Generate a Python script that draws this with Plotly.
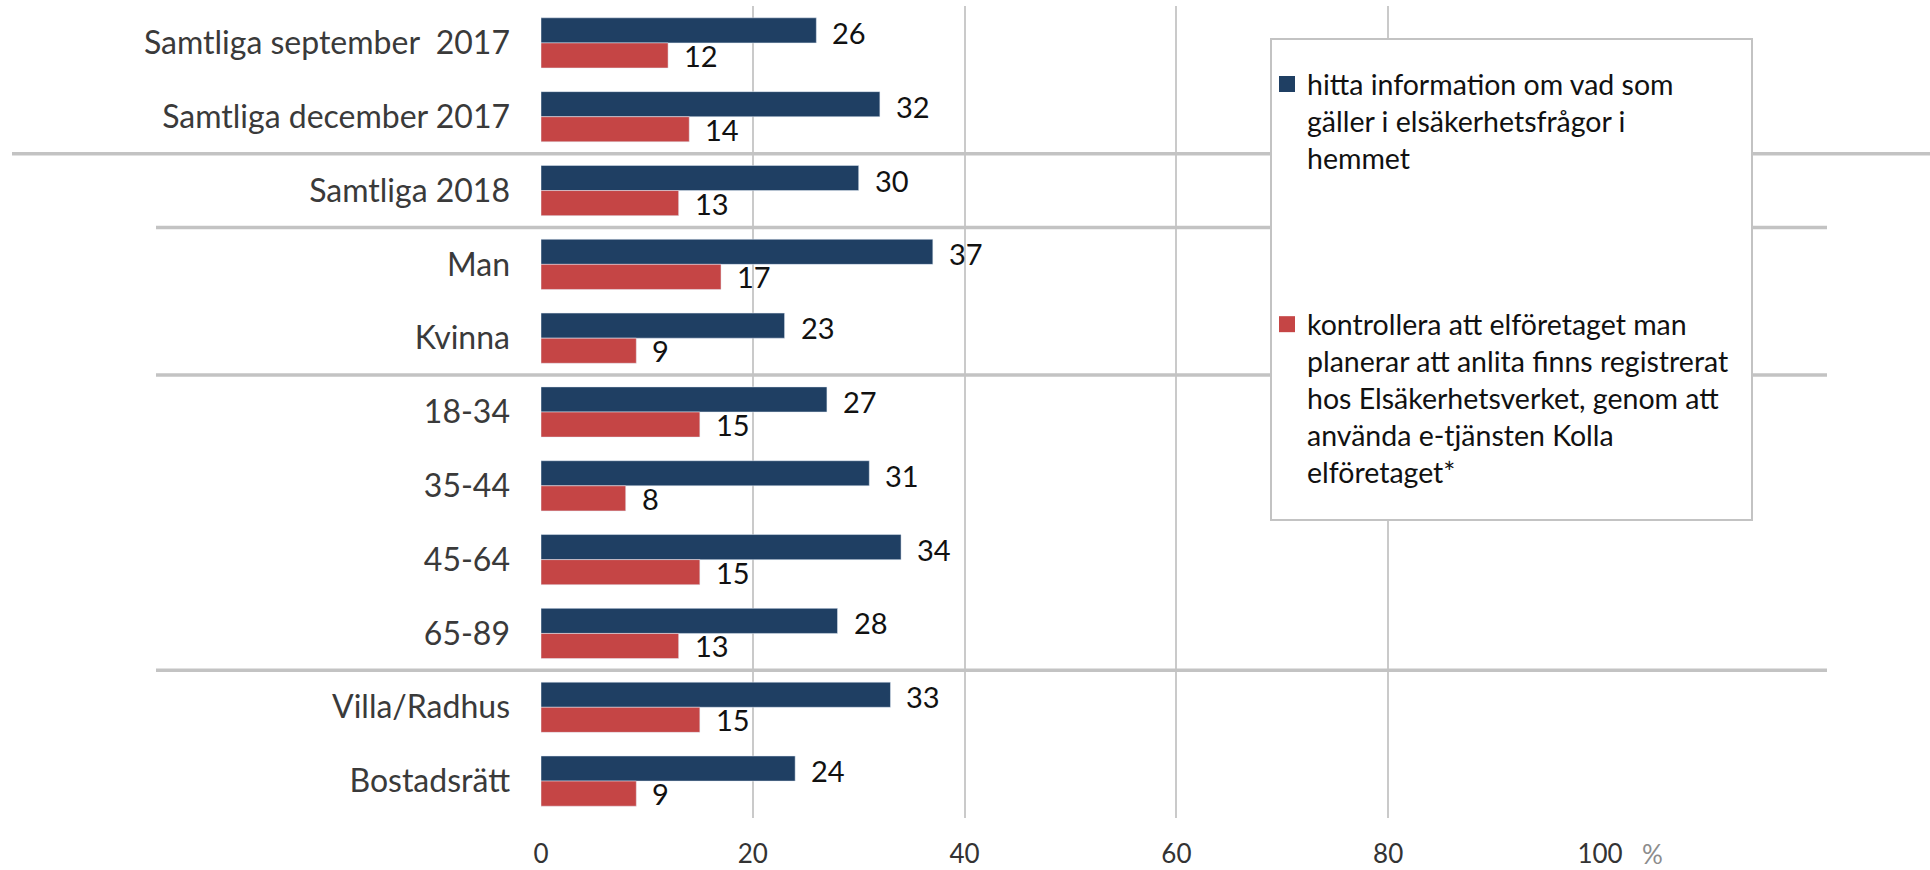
import plotly.graph_objects as go

categories = ["Samtliga september  2017", "Samtliga december 2017", "Samtliga 2018",
              "Man", "Kvinna", "18-34", "35-44", "45-64", "65-89",
              "Villa/Radhus", "Bostadsrätt"]
info_values = [26, 32, 30, 37, 23, 27, 31, 34, 28, 33, 24]
check_values = [12, 14, 13, 17, 9, 15, 8, 15, 13, 15, 9]
series_names = [
    "hitta information om vad som<br>gäller i elsäkerhetsfrågor i<br>hemmet",
    "kontrollera att elföretaget man<br>planerar att anlita finns registrerat<br>hos Elsäkerhetsverket, genom att<br>använda e-tjänsten Kolla<br>elföretaget*",
]
x_ticks = [0, 20, 40, 60, 80, 100]
# separators placed after these category indices
group_breaks = [1, 2, 4, 8]

BLUE = "#1F3F63"
RED = "#C54545"
FONT = "Lato"
W, H = 1930, 870
L, R, T, B = 541, 330, 6, 52

pos = list(range(len(categories)))
fig = go.Figure()
for vals, col in [(info_values, BLUE), (check_values, RED)]:
    fig.add_trace(go.Bar(y=pos, x=vals, orientation="h", marker=dict(color=col),
                         showlegend=False, hoverinfo="x+y"))
for name, col, grp in [(series_names[0], BLUE, "a"), (series_names[1], RED, "b")]:
    fig.add_trace(go.Scatter(x=[None], y=[None], mode="markers", name=name,
                             legendgroup=grp,
                             marker=dict(symbol="square", size=16, color=col)))

n = len(categories)
plot_h = H - T - B
plot_w = W - L - R

ann = []
for vals, ys in [(info_values, 10.5), (check_values, -12.5)]:
    for i, v in enumerate(vals):
        ann.append(dict(x=v, y=i, xref="x", yref="y", text=str(v), showarrow=False,
                        xanchor="left", yanchor="middle", xshift=14, yshift=ys,
                        font=dict(family=FONT, size=29, color="#111111")))
ann.append(dict(x=(1652 - L) / plot_w, y=-(854 - (H - B)) / plot_h,
                xref="paper", yref="paper", text="%", showarrow=False,
                xanchor="center", yanchor="middle",
                font=dict(family=FONT, size=26, color="#8C8C8C")))


def ypaper(b):
    # boundary between category b and b+1 on reversed axis range [n-0.5, -0.5]
    return 1 - (b + 1) / n

shapes = []
for k, b in enumerate(group_breaks):
    if k == 0:
        x0, x1 = (12 - L) / plot_w, (W - L) / plot_w
    else:
        x0, x1 = (156 - L) / plot_w, (1827 - L) / plot_w
    yy = ypaper(b)
    shapes.append(dict(type="line", xref="paper", yref="paper", x0=x0, x1=x1, y0=yy, y1=yy,
                       line=dict(color="#C3C3C3", width=3.5), layer="above"))
# legend box
shapes.append(dict(type="rect", xref="paper", yref="paper",
                   x0=(1271 - L) / plot_w, x1=(1752 - L) / plot_w,
                   y0=1 - (520 - T) / plot_h, y1=1 - (39 - T) / plot_h,
                   fillcolor="white", line=dict(color="#C3C3C3", width=2), layer="above"))

fig.update_layout(
    width=W, height=H,
    margin=dict(l=L, r=R, t=T, b=B, autoexpand=False),
    paper_bgcolor="white", plot_bgcolor="white",
    barmode="group", bargap=0.32, bargroupgap=0,
    font=dict(family=FONT, color="#333333"),
    xaxis=dict(range=[0, 100], tickvals=x_ticks, showgrid=True, gridcolor="#CACACA",
               gridwidth=1.5, zeroline=False, showline=False, ticks="", automargin=False,
               tickfont=dict(family=FONT, size=26, color="#333333"),
               ticklabelstandoff=18, fixedrange=True),
    yaxis=dict(range=[n - 0.5, -0.5], tickvals=pos, ticktext=categories,
               showgrid=False, zeroline=False, showline=False, ticks="", automargin=False,
               tickfont=dict(family=FONT, size=32, color="#3A3A3A"),
               ticklabelstandoff=30, fixedrange=True),
    legend=dict(x=(1267 - L) / plot_w, y=1 - (59 - T) / plot_h, xanchor="left", yanchor="top",
                bgcolor="rgba(0,0,0,0)", borderwidth=0, valign="top",
                tracegroupgap=126, traceorder="grouped",
                font=dict(family=FONT, size=28.5, color="#111111")),
    annotations=ann,
    shapes=shapes,
)

fig.write_html("out.html", config={"displayModeBar": False},
               post_script="document.body.style.margin='0';document.body.style.padding='0';")
